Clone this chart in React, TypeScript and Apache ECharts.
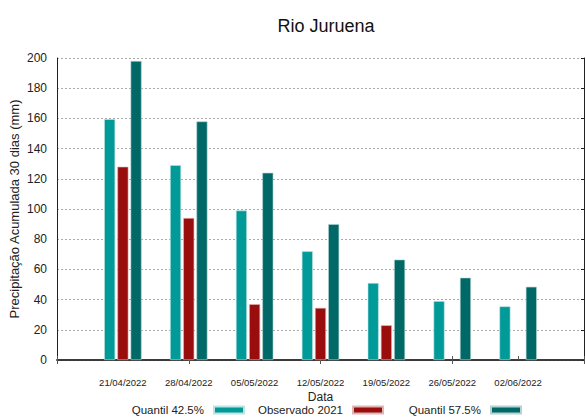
import React, { useEffect, useRef } from "react";
import * as echarts from "echarts";

const dates = ["", "21/04/2022", "28/04/2022", "05/05/2022", "12/05/2022", "19/05/2022", "26/05/2022", "02/06/2022", ""];
const quantil425 = [null, 159.5, 129, 99, 72, 51, 39, 35.5, null];
const observado2021 = [null, 128, 94, 37, 34.5, 23, null, null, null];
const quantil575 = [null, 198, 158, 124, 90, 66.5, 54.5, 48.5, null];
const yTicks = [0, 20, 40, 60, 80, 100, 120, 140, 160, 180, 200];

const FONT = "Liberation Sans";
const C1 = "#009a99";
const C2 = "#990d0d";
const C3 = "#006866";

export default function App() {
  const ref = useRef<HTMLDivElement>(null);
  useEffect(() => {
    const chart = echarts.init(ref.current!, null, { renderer: "svg" });
    const legendBase = (name: string, right: number) => ({
      data: [name],
      right,
      top: 404,
      align: "right",
      itemWidth: 30,
      itemHeight: 7,
      icon: "rect",
      selectedMode: false,
      padding: 0,
      textStyle: { fontFamily: FONT, fontSize: 11.5, color: "#222", padding: [0, 5, 0, 0] },
    });
    chart.setOption({
      animation: false,
      backgroundColor: "#ffffff",
      textStyle: { fontFamily: FONT },
      title: {
        text: "Rio Juruena",
        left: 321,
        textAlign: "center",
        top: 12,
        textStyle: { fontFamily: FONT, fontSize: 18, fontWeight: "normal", color: "#111" },
      },
      legend: [
        legendBase("Quantil 42.5%", 340),
        legendBase("Observado 2021", 201),
        legendBase("Quantil 57.5%", 63),
      ],
      grid: { left: 57, right: 1, top: 58, bottom: 57, containLabel: false, outerBoundsMode: "none" },
      xAxis: [
        {
          type: "category",
          data: dates,
          boundaryGap: false,
          name: "Data",
          nameLocation: "middle",
          nameGap: 31,
          nameMoveOverlap: false,
          nameTextStyle: { fontFamily: FONT, fontSize: 12, color: "#222" },
          axisLine: { lineStyle: { color: "#222", width: 1.5 } },
          axisTick: { inside: true, length: 4, lineStyle: { color: "#555" } },
          axisLabel: { fontFamily: FONT, fontSize: 9.5, color: "#222", margin: 17, interval: 0 },
          splitLine: { show: false },
        },
        {
          type: "category",
          data: dates,
          boundaryGap: false,
          position: "top",
          axisLine: { lineStyle: { color: "#333", width: 1.5 } },
          axisTick: { inside: true, length: 4, lineStyle: { color: "#555" } },
          axisLabel: { show: false },
          splitLine: { show: false },
        },
      ],
      yAxis: [
        {
          type: "value",
          min: 0,
          max: 200,
          interval: 20,
          name: "Precipitação Acumulada 30 dias (mm)",
          nameLocation: "middle",
          nameGap: 36,
          nameMoveOverlap: false,
          nameTextStyle: { fontFamily: FONT, fontSize: 13, color: "#222" },
          axisLine: { show: true, lineStyle: { color: "#222", width: 1 } },
          axisTick: { show: false },
          axisLabel: {
            fontFamily: FONT,
            fontSize: 12,
            color: "#222",
            margin: 10,
            formatter: (v: number) => (yTicks.includes(v) ? String(v) : ""),
          },
          splitLine: { show: true, lineStyle: { color: "#aaa", type: [2, 2], width: 1 } },
        },
        {
          type: "value",
          min: 0,
          max: 200,
          interval: 20,
          position: "right",
          axisLine: { show: true, lineStyle: { color: "#222", width: 1 } },
          axisTick: { show: true, inside: true, length: 3, lineStyle: { color: "#222" } },
          axisLabel: { show: false },
          splitLine: { show: false },
        },
      ],
      series: [
        {
          name: "Quantil 42.5%",
          type: "bar",
          data: quantil425,
          barWidth: 11,
          barGap: "20%",
          itemStyle: { color: C1, borderColor: "#bfe3e3", borderWidth: 0.6 },
        },
        {
          name: "Observado 2021",
          type: "bar",
          data: observado2021,
          barWidth: 11,
          barGap: "20%",
          itemStyle: { color: C2, borderColor: "#e0b5b5", borderWidth: 0.6 },
        },
        {
          name: "Quantil 57.5%",
          type: "bar",
          data: quantil575,
          barWidth: 11,
          barGap: "20%",
          itemStyle: { color: C3, borderColor: "#b5d3d2", borderWidth: 0.6 },
        },
      ],
    });
    return () => chart.dispose();
  }, []);
  return (
    <div
      ref={ref}
      style={{ position: "fixed", left: 0, top: 0, width: 585, height: 417, background: "#fff" }}
    />
  );
}
